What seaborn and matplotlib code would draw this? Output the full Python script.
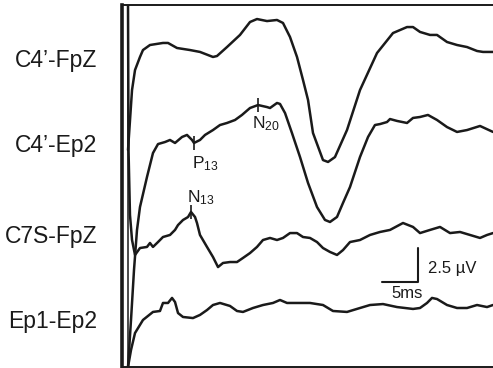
import numpy as np
import pandas as pd
import matplotlib
matplotlib.use("Agg")
import matplotlib.pyplot as plt
import seaborn as sns

# ---------------- data (time in ms, amplitude in µV relative to trace baseline) -------------
labels = ["C4’-FpZ", "C4’-Ep2", "C7S-FpZ", "Ep1-Ep2"]

t_c4fpz = [0.07, 0.62, 1.03, 1.71, 2.12, 3.08, 4.86, 5.55, 6.78, 8.56, 9.93, 11.71, 12.26, 13.63,
           15.41, 16.78, 17.74, 19.11, 20.48, 21.30, 22.26, 23.22, 24.04, 24.73, 25.41, 26.78,
           27.47, 28.42, 30.07, 31.85, 34.18, 36.37, 38.29, 39.11, 40.07, 41.44, 42.40, 43.77,
           45.14, 46.51, 47.88, 48.70, 50.07]
v_c4fpz = [-6.47, -2.06, -0.59, 0.37, 0.88, 1.25, 1.40, 1.40, 1.03, 0.88, 0.74, 0.37, 0.44, 1.10,
           1.99, 2.94, 3.16, 3.01, 3.09, 2.87, 1.84, 0.37, -1.32, -2.79, -5.22, -7.21,
           -7.35, -6.99, -5.00, -2.06, 0.66, 2.13, 2.57, 2.57, 2.21, 1.99, 1.99, 1.47,
           1.25, 1.10, 0.81, 0.74, 0.74]

t_c4ep2 = [0.07, 0.48, 0.89, 1.30, 1.71, 2.67, 3.49, 4.18, 5.14, 5.82, 6.51, 7.47, 8.15, 8.84,
           9.11, 9.93, 10.62, 11.71, 12.67, 13.63, 14.73, 15.68, 16.78, 17.88, 19.11, 19.52,
           20.48, 20.89, 21.58, 22.53, 23.63, 24.73, 25.96, 27.05, 27.74, 28.70, 29.52, 30.48,
           31.85, 32.95, 33.90, 34.59, 35.55, 35.96, 36.92, 38.29, 39.11, 40.07, 41.16, 42.40,
           43.77, 45.14, 46.51, 48.29, 50.07]
v_c4ep2 = [-16.10, -12.65, -8.97, -6.03, -4.34, -2.13, -0.37, 0.29, 0.44, 0.59, 0.37, 0.81, 0.96, 0.59,
           0.37, 0.59, 0.96, 1.32, 1.69, 1.84, 2.06, 2.43, 2.94, 3.16, 3.01, 2.94,
           3.31, 3.24, 2.57, 1.10, -0.66, -2.57, -4.34, -5.29, -5.44, -5.07, -4.04, -2.87,
           -0.66, 0.81, 1.69, 1.76, 1.91, 2.13, 1.99, 1.84, 2.21, 2.28, 2.43, 2.06,
           1.54, 1.18, 1.32, 1.62, 1.18]

t_c7sfpz = [0.07, 0.14, 0.34, 0.62, 1.03, 1.71, 2.67, 3.08, 3.49, 4.18, 4.86, 5.82, 6.51, 6.92,
            7.60, 8.29, 8.70, 9.25, 9.52, 9.93, 10.89, 11.71, 12.40, 13.08, 14.04, 15.00,
            15.82, 16.78, 17.74, 18.56, 19.52, 20.48, 21.30, 22.26, 23.22, 24.04, 25.00,
            25.96, 26.78, 27.74, 28.70, 29.52, 30.48, 31.85, 33.22, 34.59, 35.96, 37.74,
            39.11, 40.07, 41.44, 42.81, 44.18, 45.55, 46.92, 48.29, 49.25, 50.07]
v_c7sfpz = [17.28, 6.62, 1.84, 0.00, -1.10, -0.59, -0.51, -0.22, -0.51, -0.15, 0.22, 0.37, 0.74, 1.10,
            1.47, 1.69, 2.06, 1.69, 1.25, 0.37, -0.51, -1.25, -1.99, -1.69, -1.62, -1.62,
            -1.32, -0.96, -0.51, 0.00, 0.15, 0.00, 0.15, 0.51, 0.51, 0.22, 0.15,
            -0.15, -0.59, -0.88, -1.10, -0.74, -0.15, 0.00, 0.37, 0.59, 0.74, 1.25,
            0.96, 0.51, 0.74, 0.96, 0.51, 0.59, 0.37, 0.15, 0.37, 0.51]

t_ep1ep2 = [0.07, 0.48, 1.03, 2.12, 3.49, 4.45, 4.86, 5.55, 6.10, 6.51, 6.92, 7.60, 8.97, 9.93,
            10.89, 11.71, 12.67, 14.04, 15.00, 15.82, 17.19, 18.56, 19.93, 20.89, 21.85, 23.22,
            25.00, 26.78, 28.15, 30.07, 31.85, 33.22, 35.00, 36.92, 39.11, 40.07, 41.03, 41.71,
            42.40, 43.77, 45.14, 46.51, 47.88, 49.25, 50.07]
v_ep1ep2 = [-3.09, -1.84, -0.59, 0.37, 0.96, 1.03, 1.62, 1.62, 1.99, 1.69, 0.88, 0.59, 0.51, 0.74,
            1.10, 1.47, 1.62, 1.40, 1.03, 0.96, 1.25, 1.47, 1.62, 1.84, 1.62, 1.62,
            1.62, 1.47, 1.03, 0.96, 1.25, 1.47, 1.54, 1.32, 1.18, 1.25, 1.62, 1.99,
            1.91, 1.47, 1.25, 1.25, 1.47, 1.32, 1.47]

# peak markers: (name, trace index, latency in ms)
peak_names = ["P", "N", "N"]
peak_subs = ["13", "20", "13"]
peak_trace = [1, 1, 2]
peak_times = [9.11, 17.88, 8.70]

SCALE_MS = 5
SCALE_UV = 2.5

# ---------------- layout ----------------
PX_MS = 7.3        # pixels per ms
PX_UV = 13.6       # pixels per µV
T0_PX = 127.5      # stimulus position (px)
TOP_PX, BOT_PX, LEFT_PX = 5, 367, 121.5
baseline_px = [62, 148, 240, 325]
offsets = [-(b - TOP_PX) / PX_UV for b in baseline_px]

traces_t = [t_c4fpz, t_c4ep2, t_c7sfpz, t_ep1ep2]
traces_v = [v_c4fpz, v_c4ep2, v_c7sfpz, v_ep1ep2]

rows = []
for i, (tt, vv) in enumerate(zip(traces_t, traces_v)):
    for j, (a, b) in enumerate(zip(tt, vv)):
        rows.append({"trace": labels[i], "order": j, "t": a, "y": b + offsets[i]})
df = pd.DataFrame(rows)

sns.set_theme(style="white")
plt.rcParams["font.family"] = ["Liberation Sans", "DejaVu Sans"]
plt.rcParams["mathtext.fontset"] = "custom"
plt.rcParams["mathtext.rm"] = "Liberation Sans"
plt.rcParams["mathtext.it"] = "Liberation Sans:italic"

W, H = 493, 368
fig = plt.figure(figsize=(W / 100, H / 100), dpi=100)
ax = fig.add_axes([LEFT_PX / W, 1 - BOT_PX / H, (W + 6 - LEFT_PX) / W, (BOT_PX - TOP_PX) / H])

ink = "#1a1a1a"
sns.lineplot(data=df, x="t", y="y", hue="trace", units="trace", estimator=None, sort=False,
             palette=[ink] * 4, legend=False, linewidth=1.8, ax=ax)
for ln in ax.get_lines():
    ln.set_solid_joinstyle("round")
    ln.set_solid_capstyle("round")

ax.set_xlim((LEFT_PX - T0_PX) / PX_MS, (W + 6 - T0_PX) / PX_MS)
ax.set_ylim(-(BOT_PX - TOP_PX) / PX_UV, 0)
ax.axvline(0, color=ink, lw=1.1)

for s in ["top", "bottom"]:
    ax.spines[s].set_color(ink)
    ax.spines[s].set_linewidth(1.4)
ax.spines["left"].set_color(ink)
ax.spines["left"].set_linewidth(2.6)
ax.spines["right"].set_visible(False)
ax.set_xticks([]); ax.set_yticks([])
ax.set_xlabel(""); ax.set_ylabel("")

# channel labels
label_base_px = [67, 152, 243, 328]
for lab, yb in zip(labels, label_base_px):
    fig.text(97 / W, 1 - yb / H, lab, ha="right", va="baseline", fontsize=16.5, color=ink)

# peak markers
text_off = [(-2, -25), (-6, -23), (-4, 10)]
for name, sub, ti, pt, off in zip(peak_names, peak_subs, peak_trace, peak_times, text_off):
    yv = np.interp(pt, traces_t[ti], traces_v[ti]) + offsets[ti]
    ax.plot([pt], [yv], marker="|", markersize=10.5, markeredgewidth=1.2, color=ink)
    ax.annotate(name + r"$_{" + sub + "}$", xy=(pt, yv), xytext=off, textcoords="offset pixels",
                ha="left", va="baseline", fontsize=12.5, color=ink)

# scale bar
cx = (418 - T0_PX) / PX_MS
cy = -(282 - TOP_PX) / PX_UV
ax.plot([cx - SCALE_MS, cx, cx], [cy, cy, cy + SCALE_UV], color=ink, lw=1.5)
ax.annotate(f"{SCALE_UV} µV", xy=(cx, cy), xytext=(10, 14), textcoords="offset pixels",
            ha="left", va="center", fontsize=12, color=ink)
ax.annotate(f"{SCALE_MS}ms", xy=(cx, cy), xytext=(-11, -16), textcoords="offset pixels",
            ha="center", va="baseline", fontsize=12, color=ink)

fig.savefig("out.png", dpi=100, facecolor="white")
